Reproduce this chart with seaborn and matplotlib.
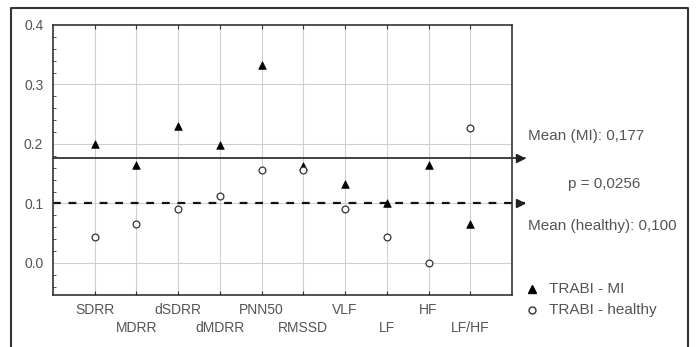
import matplotlib
matplotlib.use("Agg")
import matplotlib.pyplot as plt
import seaborn as sns
import pandas as pd
import numpy as np
from matplotlib.lines import Line2D
from matplotlib.ticker import MultipleLocator

categories = ["SDRR", "MDRR", "dSDRR", "dMDRR", "PNN50", "RMSSD", "VLF", "LF", "HF", "LF/HF"]
mi_values = [0.200, 0.164, 0.231, 0.199, 0.332, 0.163, 0.132, 0.100, 0.164, 0.066]
healthy_values = [0.043, 0.066, 0.090, 0.113, 0.157, 0.157, 0.090, 0.044, 0.000, 0.227]
mean_mi = 0.177
mean_healthy = 0.100
y_ticks = [0.0, 0.1, 0.2, 0.3, 0.4]

sns.set_style("white")
plt.rcParams["font.family"] = ["Liberation Sans", "DejaVu Sans"]

txt_col = "#555555"
fs = 10
fs_r = 11
fig = plt.figure(figsize=(6.96, 3.47), dpi=100)
ax = fig.add_axes([53 / 696, 1 - 295 / 347, (512 - 53) / 696, (295 - 25) / 347])

x = np.arange(len(categories))
df = pd.DataFrame({"x": np.concatenate([x, x]),
                   "y": mi_values + healthy_values,
                   "group": ["TRABI - MI"] * len(x) + ["TRABI - healthy"] * len(x)})

ax.set_xlim(-1, 10)
ax.set_ylim(-0.054, 0.4)

# grid
for xi in x:
    ax.axvline(xi, color="#d0d0d0", lw=0.8, zorder=0)
for yt in y_ticks[:-1]:
    ax.axhline(yt, color="#d0d0d0", lw=0.8, zorder=0)

# mean lines with arrowheads
ax.plot([-1, 10.3], [mean_mi, mean_mi], color="#333333", lw=1.3, clip_on=False, zorder=2)
ax.plot([-1, 10.3], [mean_healthy, mean_healthy], color="#111111", lw=1.6,
        ls=(0, (3.5, 3.5)), clip_on=False, zorder=2)
ax.plot([10.18], [mean_mi], marker=">", ms=5.5, color="#222222", clip_on=False, zorder=3)
ax.plot([10.18], [mean_healthy], marker=">", ms=5.5, color="#222222", clip_on=False, zorder=3)

sub_mi = df[df.group == "TRABI - MI"]
sub_h = df[df.group == "TRABI - healthy"]
sns.scatterplot(data=sub_mi, x="x", y="y", ax=ax, marker="^", s=30, color="black",
                edgecolor="black", linewidth=0.5, zorder=4, legend=False)
sns.scatterplot(data=sub_h, x="x", y="y", ax=ax, marker="o", s=24, facecolor="white",
                edgecolor="#333333", linewidth=0.9, zorder=4, legend=False)

ax.set_xlabel("")
ax.set_ylabel("")
ax.set_xticks(x)
ax.set_xticklabels([])
ax.set_yticks(y_ticks)
ax.set_yticklabels([f"{v:.1f}" for v in y_ticks], color=txt_col, fontsize=fs)
ax.yaxis.set_minor_locator(MultipleLocator(0.02))
ax.tick_params(axis="y", which="major", direction="in", length=3, color="#333333", pad=7)
ax.tick_params(axis="y", which="minor", direction="in", length=2, color="#333333", left=True)
ax.tick_params(axis="x", which="major", direction="in", length=3, color="#333333", top=True, bottom=True)
for s in ax.spines.values():
    s.set_color("#333333")
    s.set_linewidth(1.2)

# staggered category labels
for i, c in enumerate(categories):
    yoff = -0.079 if i % 2 == 0 else -0.110
    ax.text(i, yoff, c, ha="center", va="center", fontsize=fs, color=txt_col, clip_on=False)

# annotations at right
fig.text(528 / 696, 1 - 136 / 347, f"Mean (MI): {mean_mi:.3f}".replace(".", ","),
         fontsize=fs_r, color=txt_col, va="center", ha="left")
fig.text(604 / 696, 1 - 184 / 347, "p = 0,0256", fontsize=fs_r, color=txt_col, va="center", ha="center")
fig.text(528 / 696, 1 - 226 / 347, f"Mean (healthy): {mean_healthy:.3f}".replace(".", ","),
         fontsize=fs_r, color=txt_col, va="center", ha="left")

# legend
fig.lines.append(Line2D([532 / 696], [1 - 289 / 347], marker="^", ms=5.5, color="black",
                        ls="none", transform=fig.transFigure))
fig.lines.append(Line2D([532 / 696], [1 - 310 / 347], marker="o", ms=5, mfc="white",
                        mec="#333333", ls="none", transform=fig.transFigure))
fig.text(549 / 696, 1 - 289 / 347, "TRABI - MI", fontsize=fs_r, color=txt_col, va="center")
fig.text(549 / 696, 1 - 310 / 347, "TRABI - healthy", fontsize=fs_r, color=txt_col, va="center")

# outer frame
fx0, fx1, fy0 = 11 / 696, 688 / 696, 1 - 8 / 347
fig.lines.append(Line2D([fx0, fx0, fx1, fx1], [0, fy0, fy0, 0], color="#333333", lw=1.5,
                        transform=fig.transFigure))

fig.savefig("out.png", dpi=100)
